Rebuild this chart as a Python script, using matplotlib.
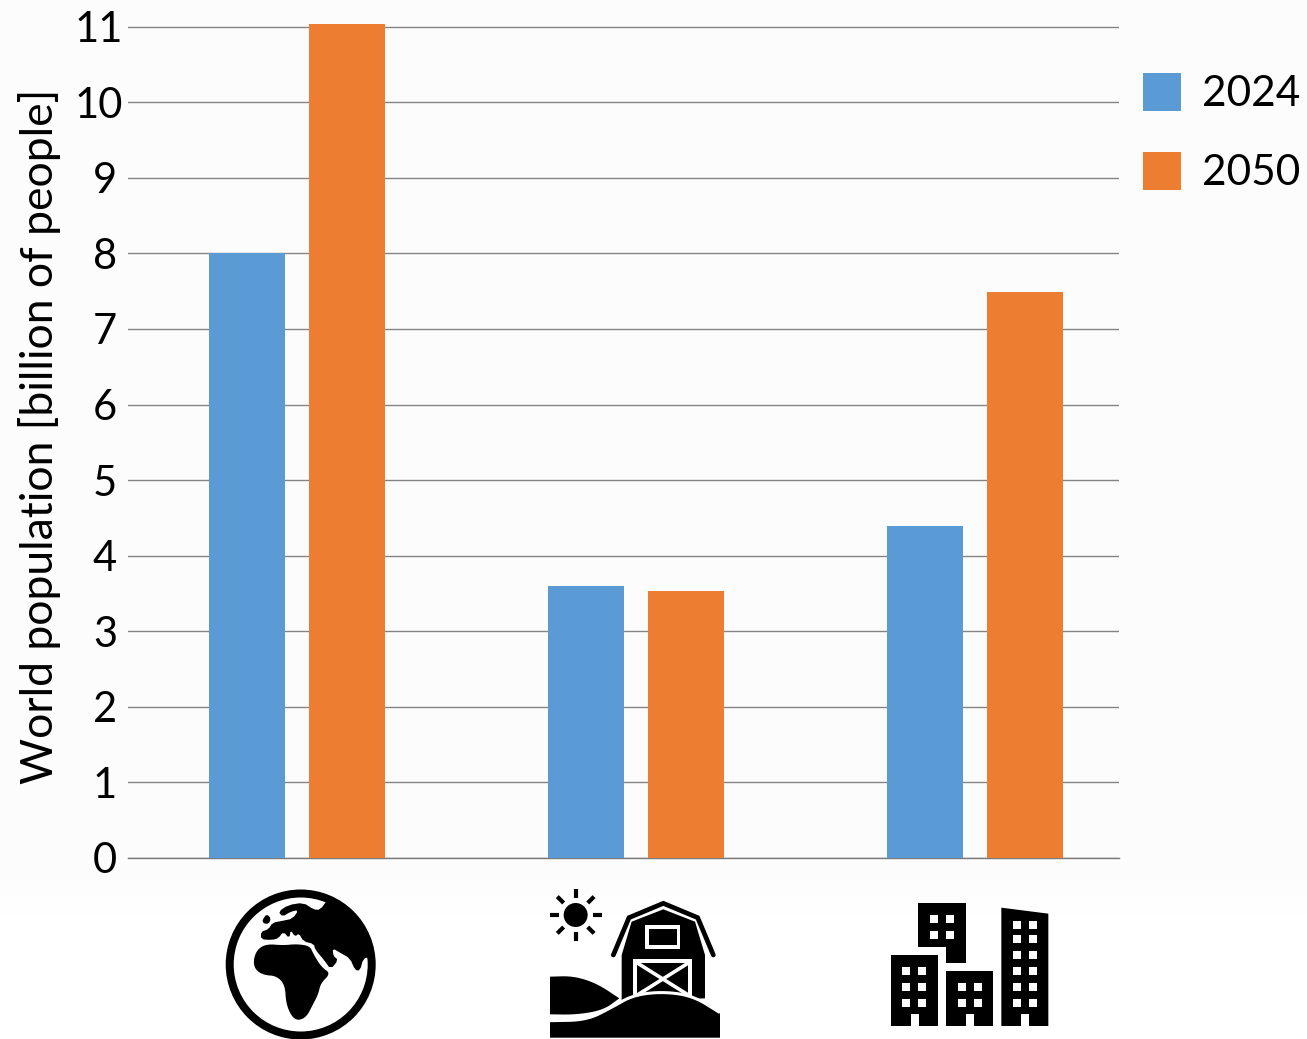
import matplotlib
matplotlib.use('Agg')
import matplotlib.pyplot as plt
import numpy as np
from matplotlib.patches import Circle, Polygon, Rectangle
from matplotlib.transforms import ScaledTranslation

plt.rcParams['font.family'] = ['Lato', 'DejaVu Sans']

W, H = 1307, 1039

categories = ['World', 'Rural', 'Urban']
series_names = ['2024', '2050']
pop_2024 = [8.0, 3.6, 4.39]
pop_2050 = [11.04, 3.53, 7.49]
y_ticks = list(range(0, 12))
y_label = 'World population [billion of people]'

BLUE = '#5b9bd5'
ORANGE = '#ed7d31'


def smooth(pts, n=2):
    # corner cutting so the hand placed outlines come out round
    p = np.asarray(pts, float)
    for _ in range(n):
        q = np.roll(p, -1, axis=0)
        p = np.column_stack([0.75 * p + 0.25 * q, 0.25 * p + 0.75 * q]).reshape(-1, 2)
    return p


def smooth_open(pts, n=3):
    # same thing for a curve whose end points stay put
    p = np.asarray(pts, float)
    for _ in range(n):
        a, b = p[:-1], p[1:]
        mid = np.column_stack([0.75 * a + 0.25 * b, 0.25 * a + 0.75 * b]).reshape(-1, 2)
        p = np.vstack([p[0], mid, p[-1]])
    return p


def to_px(pts, ox, oy):
    # icon outlines were laid out on a 3x grid
    return np.asarray(pts, float) / 3 + [ox, oy]


def draw_globe(ov):
    ox, oy = 200, 870
    c = (300.7, 964.5)
    ov.add_patch(Circle(c, 72, fc='white', ec='none'))
    clip = Circle(c, 72, fc='none', ec='none')
    ov.add_patch(clip)
    eurasia = [(235, 125), (265, 105), (310, 98), (340, 118), (360, 120), (382, 90), (450, 85),
               (535, 150), (550, 230), (510, 262), (490, 265), (480, 302), (465, 300), (450, 265),
               (420, 248), (398, 235), (400, 258), (415, 270), (392, 298), (372, 270), (345, 238),
               (342, 222), (310, 214), (297, 190), (285, 200), (272, 180), (268, 205), (250, 185),
               (235, 205), (215, 210), (183, 208), (183, 185), (205, 178), (218, 158), (245, 153),
               (278, 146), (296, 120), (272, 125), (248, 140)]
    africa = [(160, 270), (172, 238), (200, 222), (250, 226), (290, 222), (330, 228), (340, 252),
              (365, 292), (392, 310), (362, 340), (355, 372), (338, 405), (320, 440), (295, 452),
              (275, 440), (258, 400), (255, 345), (230, 318), (190, 315), (165, 298)]
    island = [(187, 150), (200, 132), (213, 145), (206, 162), (190, 160)]
    for outline, n in [(eurasia, 1), (africa, 2), (island, 1)]:
        land = Polygon(smooth(to_px(outline, ox, oy), n), fc='black', ec='none')
        ov.add_patch(land)
        land.set_clip_path(clip)
    # ring goes on last so the land runs into it without a seam
    ov.add_patch(Circle(c, 71, fc='none', ec='black', lw=5.76))


def draw_barn(ov):
    ox, oy = 530, 870
    px = lambda pts: to_px(pts, ox, oy)
    # sun
    sun = px([(137, 135)])[0]
    ov.add_patch(Circle(sun, 12, fc='black', ec='none'))
    for a in np.arange(0, 360, 45):
        d = np.array([np.cos(np.radians(a)), np.sin(np.radians(a))])
        ov.plot(*zip(sun + 17 * d, sun + 26 * d), color='black', lw=3, solid_capstyle='butt')
    # barn body and roof
    ov.add_patch(Polygon(px([(275, 255), (305, 155), (400, 118), (495, 155), (525, 255),
                             (525, 385), (275, 395)]), fc='black', ec='none'))
    roof = px([(250, 255), (297, 143), (400, 100), (503, 143), (550, 255)])
    ov.plot(roof[:, 0], roof[:, 1], color='black', lw=3.4, solid_capstyle='round', solid_joinstyle='miter')
    # hayloft window
    ov.add_patch(Polygon(px([(345, 165), (450, 165), (450, 236), (345, 236)]), fc='white', ec='none'))
    ov.add_patch(Polygon(px([(357, 177), (440, 177), (440, 225), (357, 225)]), fc='black', ec='none'))
    # door with the cross bracing
    ov.add_patch(Polygon(px([(310, 267), (487, 267), (487, 385), (310, 385)]), fc='white', ec='none'))
    ov.add_patch(Polygon(px([(322, 279), (475, 279), (475, 385), (322, 385)]), fc='black', ec='none'))
    for a, b in [((322, 279), (475, 375)), ((475, 279), (322, 375))]:
        seg = px([a, b])
        ov.plot(seg[:, 0], seg[:, 1], color='white', lw=2.6, solid_capstyle='butt')
    # hills, the near one cut out of the far one by a white line along its crest
    left_top = smooth_open([(60, 320), (130, 318), (200, 340), (268, 385)])
    left_low = smooth_open([(268, 385), (220, 420), (140, 434), (60, 433)])
    ov.add_patch(Polygon(px(np.vstack([left_top, left_low])), fc='black', ec='none'))
    crest = smooth_open([(60, 452), (170, 450), (245, 412), (310, 375), (400, 365), (490, 378), (570, 428)])
    ov.add_patch(Polygon(px(np.vstack([crest, [(570, 503), (60, 503)]])), fc='black', ec='none'))
    line = px(crest)
    ov.plot(line[:, 0], line[:, 1], color='white', lw=2.2, solid_capstyle='butt')


def add_block(ov, outline, windows, door, ox, oy):
    ov.add_patch(Polygon(to_px(outline, ox, oy), fc='black', ec='none'))
    xs, ys = windows
    for wx in xs:
        for wy in ys:
            corner = to_px([(wx, wy)], ox, oy)[0]
            ov.add_patch(Rectangle(corner, 8, 8, fc='white', ec='none'))
    if door is not None:
        corner = to_px([(door, 402)], ox, oy)[0]
        ov.add_patch(Rectangle(corner, 8, 12, fc='white', ec='none'))


def draw_city(ov):
    ox, oy = 870, 880
    add_block(ov, [(145, 70), (287, 70), (287, 248), (228, 248), (228, 202), (145, 202)],
              ([180, 228], [106, 154]), None, ox, oy)
    add_block(ov, [(62, 225), (204, 225), (204, 438), (62, 438)],
              ([97, 145], [261, 308, 356]), 122, ox, oy)
    add_block(ov, [(228, 272), (370, 272), (370, 438), (228, 438)],
              ([263, 311], [308, 356]), 287, ox, oy)
    add_block(ov, [(394, 83), (535, 101), (535, 438), (394, 438)],
              ([430, 477], [124, 165, 213, 261, 308, 356]), 452, ox, oy)


fig = plt.figure(figsize=(W / 100, H / 100), dpi=100, facecolor='white')

# faint backdrop that fades to white towards the bottom edge
bg = fig.add_axes([0, 0, 1, 1], zorder=-1)
bg.set_xlim(0, W)
bg.set_ylim(H, 0)
bg.axis('off')
fade = np.clip((930 - np.arange(H)) / 60, 0, 1).reshape(-1, 1)
bg.imshow(1 - 0.014 * fade, cmap='gray', vmin=0, vmax=1, extent=(0, W, H, 0), aspect='auto')

# chart area, pixel edges converted to figure fractions
y_max = 11.1
px_per_unit = 75.55
left, right, bottom = 128, 1119, 857.8
top = bottom - y_max * px_per_unit
ax = fig.add_axes([left / W, 1 - bottom / H, (right - left) / W, (bottom - top) / H])
ax.patch.set_alpha(0)

x = np.arange(len(categories))
spacing = 339
first_centre = 296.7
bar_w = 76 / spacing
offset = 50 / spacing
ax.bar(x - offset, pop_2024, bar_w, color=BLUE, label=series_names[0], zorder=3)
ax.bar(x + offset, pop_2050, bar_w, color=ORANGE, label=series_names[1], zorder=3)
ax.set_xlim((left - first_centre) / spacing, (right - first_centre) / spacing)
ax.set_ylim(0, y_max)

ax.set_yticks(y_ticks)
ax.set_xticks([])
ax.tick_params(axis='y', length=0, pad=8, labelsize=30, labelcolor='black')
ax.grid(axis='y', color='#848484', lw=1.0, zorder=1)
for side in ['top', 'right', 'left']:
    ax.spines[side].set_visible(False)
ax.spines['bottom'].set_color('#7a7a7a')
ax.spines['bottom'].set_linewidth(1.0)

# the two digit labels sit a little further right
for lbl in ax.get_yticklabels()[-2:]:
    lbl.set_transform(lbl.get_transform() + ScaledTranslation(6 / 100, 0, fig.dpi_scale_trans))

fig.text(40 / W, 1 - 436 / H, y_label, rotation=90, fontsize=32, ha='center', va='center', color='black')

ax.legend(loc='upper left', bbox_to_anchor=(1143 / W, 1 - 73 / H), bbox_transform=fig.transFigure,
          frameon=False, fontsize=30.5, borderpad=0, borderaxespad=0, handlelength=0.9, handleheight=1.0,
          labelspacing=0.9, handletextpad=0.5)

# overlay in image pixels for the icons under the groups
ov = fig.add_axes([0, 0, 1, 1], zorder=5)
ov.set_xlim(0, W)
ov.set_ylim(H, 0)
ov.axis('off')
draw_globe(ov)
draw_barn(ov)
draw_city(ov)

fig.savefig('out.png', dpi=100, facecolor=fig.get_facecolor())
